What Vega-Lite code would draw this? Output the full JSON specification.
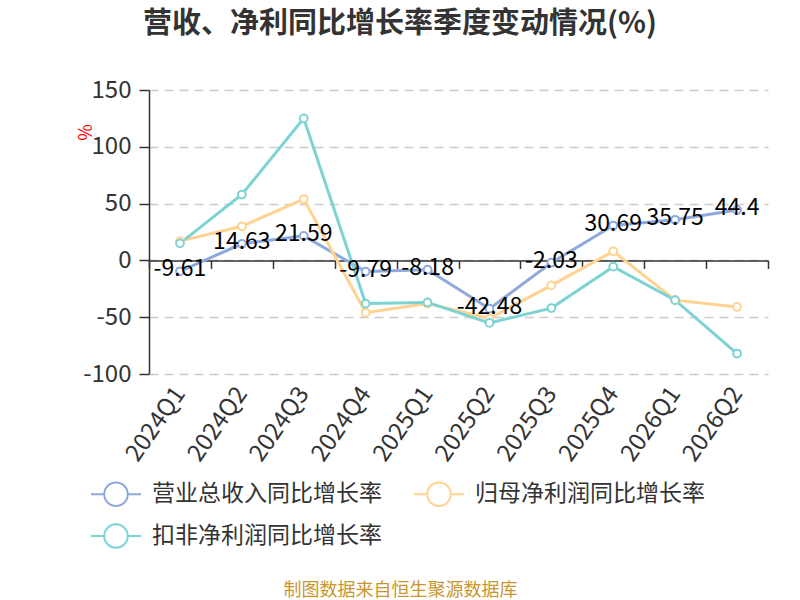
{
  "$schema": "https://vega.github.io/schema/vega-lite/v6.json",
  "width": 619,
  "height": 284,
  "autosize": "none",
  "padding": {"left": 149, "top": 90, "right": 32, "bottom": 226},
  "background": "white",
  "config": {
    "font": "Noto Sans CJK SC",
    "view": {"stroke": null}
  },
  "title": {
    "text": "营收、净利同比增长率季度变动情况(%)",
    "fontSize": 29,
    "fontWeight": "bold",
    "color": "#333333",
    "anchor": "middle",
    "frame": "group",
    "dx": -58.5,
    "baseline": "middle",
    "offset": 25.5
  },
  "data": {
    "values": [
      {"quarter": "2024Q1", "series": "营业总收入同比增长率", "value": -9.61},
      {"quarter": "2024Q2", "series": "营业总收入同比增长率", "value": 14.63},
      {"quarter": "2024Q3", "series": "营业总收入同比增长率", "value": 21.59},
      {"quarter": "2024Q4", "series": "营业总收入同比增长率", "value": -9.79},
      {"quarter": "2025Q1", "series": "营业总收入同比增长率", "value": -8.18},
      {"quarter": "2025Q2", "series": "营业总收入同比增长率", "value": -42.48},
      {"quarter": "2025Q3", "series": "营业总收入同比增长率", "value": -2.03},
      {"quarter": "2025Q4", "series": "营业总收入同比增长率", "value": 30.69},
      {"quarter": "2026Q1", "series": "营业总收入同比增长率", "value": 35.75},
      {"quarter": "2026Q2", "series": "营业总收入同比增长率", "value": 44.4},
      {"quarter": "2024Q1", "series": "归母净利润同比增长率", "value": 17},
      {"quarter": "2024Q2", "series": "归母净利润同比增长率", "value": 30},
      {"quarter": "2024Q3", "series": "归母净利润同比增长率", "value": 54},
      {"quarter": "2024Q4", "series": "归母净利润同比增长率", "value": -46},
      {"quarter": "2025Q1", "series": "归母净利润同比增长率", "value": -38},
      {"quarter": "2025Q2", "series": "归母净利润同比增长率", "value": -51},
      {"quarter": "2025Q3", "series": "归母净利润同比增长率", "value": -22},
      {"quarter": "2025Q4", "series": "归母净利润同比增长率", "value": 8},
      {"quarter": "2026Q1", "series": "归母净利润同比增长率", "value": -35},
      {"quarter": "2026Q2", "series": "归母净利润同比增长率", "value": -41},
      {"quarter": "2024Q1", "series": "扣非净利润同比增长率", "value": 15},
      {"quarter": "2024Q2", "series": "扣非净利润同比增长率", "value": 58},
      {"quarter": "2024Q3", "series": "扣非净利润同比增长率", "value": 125},
      {"quarter": "2024Q4", "series": "扣非净利润同比增长率", "value": -38},
      {"quarter": "2025Q1", "series": "扣非净利润同比增长率", "value": -37},
      {"quarter": "2025Q2", "series": "扣非净利润同比增长率", "value": -55},
      {"quarter": "2025Q3", "series": "扣非净利润同比增长率", "value": -42},
      {"quarter": "2025Q4", "series": "扣非净利润同比增长率", "value": -5.5},
      {"quarter": "2026Q1", "series": "扣非净利润同比增长率", "value": -35},
      {"quarter": "2026Q2", "series": "扣非净利润同比增长率", "value": -82}
    ]
  },
  "encoding": {
    "x": {
      "field": "quarter",
      "type": "ordinal",
      "sort": null,
      "scale": {"type": "band", "paddingInner": 0, "paddingOuter": 0},
      "axis": {
        "orient": "bottom",
        "offset": -113.6,
        "tickBand": "extent",
        "tickSize": 8,
        "tickColor": "#333333",
        "tickWidth": 1.5,
        "domainColor": "#333333",
        "domainWidth": 1.5,
        "labelPadding": 121,
        "labelAngle": -55,
        "labelAlign": "right",
        "labelBaseline": "middle",
        "labelFontSize": 24,
        "labelColor": "#333333",
        "grid": false,
        "title": "制图数据来自恒生聚源数据库",
        "titleColor": "#C9962E",
        "titleFontSize": 18,
        "titleFontWeight": "normal",
        "titleX": 251,
        "titleY": 330,
        "titleAlign": "center",
        "titleBaseline": "middle"
      }
    },
    "y": {
      "field": "value",
      "type": "quantitative",
      "scale": {"domain": [-100, 150], "nice": false, "zero": false},
      "axis": {
        "values": [-100, -50, 0, 50, 100, 150],
        "labelExpr": "'' + datum.value",
        "tickSize": 10,
        "tickColor": "#333333",
        "tickWidth": 1.5,
        "domainColor": "#333333",
        "domainWidth": 1.5,
        "labelPadding": 8,
        "labelFontSize": 24,
        "labelColor": "#333333",
        "gridColor": "#cccccc",
        "gridWidth": 1.5,
        "gridDash": [9, 6],
        "title": "%",
        "titleColor": "#ff0000",
        "titleFontSize": 18,
        "titleFontWeight": "normal",
        "titleX": -54,
        "titleY": 42,
        "titleAngle": -90
      }
    },
    "color": {
      "field": "series",
      "type": "nominal",
      "sort": null,
      "scale": {
        "domain": ["营业总收入同比增长率", "归母净利润同比增长率", "扣非净利润同比增长率"],
        "range": ["#8FA9DC", "#FFD38F", "#7DD3D3"]
      },
      "legend": {
        "orient": "none",
        "direction": "horizontal",
        "legendX": -59,
        "legendY": 378,
        "columns": 2,
        "title": null,
        "padding": 0,
        "symbolType": "M-1,0H-0.47M0.47,0H1M0.47,0A0.47,0.47,0,1,1,-0.47,0A0.47,0.47,0,1,1,0.47,0",
        "symbolSize": 2500,
        "symbolStrokeWidth": 2,
        "symbolFillColor": "white",
        "labelFontSize": 23,
        "labelColor": "#333333",
        "labelOffset": 10,
        "labelLimit": 400,
        "columnPadding": 28,
        "rowPadding": -5
      }
    }
  },
  "layer": [
    {
      "mark": {"type": "line", "strokeWidth": 3}
    },
    {
      "mark": {"type": "point", "filled": true, "fill": "white", "size": 60, "strokeWidth": 2, "opacity": 1},
      "encoding": {
        "stroke": {"field": "series", "type": "nominal", "sort": null, "legend": null,
          "scale": {
            "domain": ["营业总收入同比增长率", "归母净利润同比增长率", "扣非净利润同比增长率"],
            "range": ["#8FA9DC", "#FFD38F", "#7DD3D3"]
          }
        },
        "color": {"value": null}
      }
    },
    {
      "transform": [{"filter": "datum.series == '营业总收入同比增长率'"}],
      "mark": {"type": "text", "fontSize": 23, "baseline": "middle", "dy": -2, "color": "#000000"},
      "encoding": {
        "text": {"field": "value", "type": "nominal"},
        "color": {"value": "#000000"}
      }
    }
  ]
}
